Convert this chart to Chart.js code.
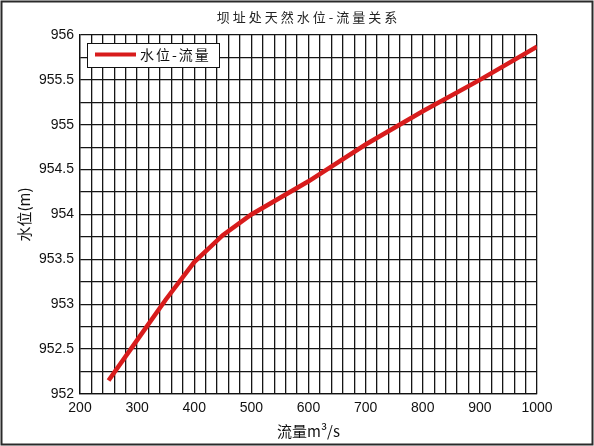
<!DOCTYPE html>
<html>
<head>
<meta charset="utf-8">
<script src="https://cdn.jsdelivr.net/npm/chart.js@4/dist/chart.umd.min.js"></script>
<style>
  body { margin: 0; background: #fff; }
  canvas { display: block; }
</style>
</head>
<body>
<canvas id="chart" width="594" height="446"></canvas>
<script>
// 流量 (m3/s) 与 水位 (m)
const flowValues = [250, 300, 350, 400, 450, 500, 600, 700, 800, 900, 1000];
const levelValues = [952.15, 952.6, 953.05, 953.47, 953.77, 954.0, 954.37, 954.78, 955.15, 955.5, 955.87];
const chartTitle = '坝址处天然水位-流量关系';
const seriesLabel = '水位-流量';
const xTitle = '流量m³/s';
const yTitle = '水位(m)';

const fontStack = '"Liberation Sans", Arial, "Noto Sans CJK SC", sans-serif';
Chart.defaults.font.family = fontStack;
Chart.defaults.color = '#111';

// 外框、标题、图例
const decorPlugin = {
    id: 'decor',
    beforeDraw(chart) {
        const ctx = chart.ctx;
        ctx.save();
        ctx.fillStyle = '#fff';
        ctx.fillRect(0, 0, chart.width, chart.height);
        ctx.restore();
    },
    afterDraw(chart) {
        const ctx = chart.ctx;
        const area = chart.chartArea;
        ctx.save();
        // frame
        ctx.strokeStyle = '#2a2a2a';
        ctx.lineWidth = 2;
        ctx.strokeRect(1.5, 1.5, chart.width - 3, chart.height - 3);
        // title
        ctx.fillStyle = '#222';
        ctx.font = '13px "Noto Sans CJK SC", sans-serif';
        ctx.letterSpacing = '3px';
        ctx.textAlign = 'center';
        ctx.textBaseline = 'middle';
        ctx.fillText(chartTitle, (area.left + area.right) / 2, 17);
        // legend
        const ds = chart.data.datasets[0];
        const bx = area.left + 7, by = area.top + 8;
        ctx.letterSpacing = '0px';
        ctx.fillStyle = '#fff';
        ctx.fillRect(bx, by, 132, 24);
        ctx.strokeStyle = '#111';
        ctx.lineWidth = 1;
        ctx.strokeRect(bx + 0.5, by + 0.5, 132, 24);
        ctx.strokeStyle = ds.borderColor;
        ctx.lineWidth = 4;
        ctx.beginPath();
        ctx.moveTo(bx + 8, by + 11.5);
        ctx.lineTo(bx + 49, by + 11.5);
        ctx.stroke();
        ctx.fillStyle = '#111';
        ctx.font = '14px "Noto Sans CJK SC", sans-serif';
        ctx.letterSpacing = '2px';
        ctx.textAlign = 'left';
        ctx.fillText(ds.label, bx + 53, by + 12);
        ctx.restore();
    }
};

const isMultiple = (v, step) => Math.abs(v / step - Math.round(v / step)) < 1e-6;

const ctx = document.getElementById('chart').getContext('2d');
const chart = new Chart(ctx, {
    type: 'line',
    data: {
        datasets: [{
            label: seriesLabel,
            data: flowValues.map((x, i) => ({ x: x, y: levelValues[i] })),
            borderColor: '#d81c1c',
            borderWidth: 4.5,
            pointRadius: 0,
            tension: 0,
            fill: false
        }]
    },
    options: {
        responsive: false,
        animation: false,
        layout: { padding: { left: 0, right: 57, top: 35, bottom: 0 } },
        plugins: {
            legend: { display: false },
            title: { display: false },
            tooltip: { enabled: false }
        },
        scales: {
            x: {
                type: 'linear',
                min: 200,
                max: 1000,
                afterFit(scale) { scale.height = 52; },
                ticks: {
                    stepSize: 20,
                    autoSkip: false,
                    maxRotation: 0,
                    padding: 6,
                    font: { size: 14 },
                    color: '#111',
                    callback: v => isMultiple(v, 100) ? String(v) : ''
                },
                grid: { color: '#151515', lineWidth: 1.3, drawTicks: false },
                border: { color: '#111', width: 1.3 },
                title: {
                    display: true,
                    text: xTitle,
                    color: '#111',
                    font: { size: 15, family: '"Noto Sans CJK SC", sans-serif' },
                    padding: { top: 0, bottom: 6 }
                }
            },
            y: {
                min: 952,
                max: 956,
                afterFit(scale) { scale.width = 80; },
                ticks: {
                    stepSize: 0.25,
                    autoSkip: false,
                    padding: 6,
                    font: { size: 14 },
                    color: '#111',
                    callback: v => isMultiple(v, 0.5) ? String(v) : ''
                },
                grid: { color: '#151515', lineWidth: 1.3, drawTicks: false },
                border: { color: '#111', width: 1.3 },
                title: {
                    display: true,
                    text: yTitle,
                    color: '#111',
                    font: { size: 15, family: '"Noto Sans CJK SC", sans-serif' },
                    padding: { top: 15, bottom: 0 }
                }
            }
        }
    },
    plugins: [decorPlugin]
});
</script>
</body>
</html>
